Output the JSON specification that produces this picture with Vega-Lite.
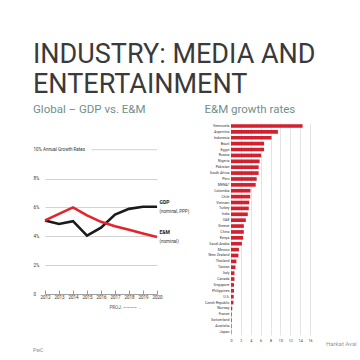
{
  "$schema": "https://vega.github.io/schema/vega-lite/v6.json",
  "background": "white",
  "padding": {"left": 33, "top": 40, "right": 0, "bottom": 0},
  "title": {
    "text": ["INDUSTRY: MEDIA AND", "ENTERTAINMENT"],
    "font": "Roboto",
    "fontSize": 27,
    "fontWeight": "normal",
    "lineHeight": 30,
    "color": "#3a3a3a",
    "anchor": "start",
    "frame": "bounds",
    "offset": 5
  },
  "datasets": {
    "lines": [
      {"year": 2012, "series": "GDP", "value": 5.1},
      {"year": 2013, "series": "GDP", "value": 4.85},
      {"year": 2014, "series": "GDP", "value": 5.05},
      {"year": 2015, "series": "GDP", "value": 4.05},
      {"year": 2016, "series": "GDP", "value": 4.6},
      {"year": 2017, "series": "GDP", "value": 5.5},
      {"year": 2018, "series": "GDP", "value": 5.9},
      {"year": 2019, "series": "GDP", "value": 6.05},
      {"year": 2020, "series": "GDP", "value": 6.05},
      {"year": 2012, "series": "E&M", "value": 5.1},
      {"year": 2013, "series": "E&M", "value": 5.55},
      {"year": 2014, "series": "E&M", "value": 6.0},
      {"year": 2015, "series": "E&M", "value": 5.45},
      {"year": 2016, "series": "E&M", "value": 5.0},
      {"year": 2017, "series": "E&M", "value": 4.7},
      {"year": 2018, "series": "E&M", "value": 4.45},
      {"year": 2019, "series": "E&M", "value": 4.2},
      {"year": 2020, "series": "E&M", "value": 3.95}
    ],
    "labels": [
      {"year": 2020, "value": 6.05, "name": "GDP", "sub": "(nominal, PPP)"},
      {"year": 2020, "value": 3.95, "name": "E&M", "sub": "(nominal)"}
    ],
    "bars": [
      {"country": "Venezuela", "rate": 14.5},
      {"country": "Argentina", "rate": 9.5},
      {"country": "Indonesia", "rate": 8.2},
      {"country": "Brazil", "rate": 6.7},
      {"country": "Egypt", "rate": 6.7},
      {"country": "Russia", "rate": 6.1},
      {"country": "Nigeria", "rate": 5.8},
      {"country": "Pakistan", "rate": 5.6},
      {"country": "South Africa", "rate": 5.6},
      {"country": "Peru", "rate": 5.2},
      {"country": "MENA*", "rate": 5.0},
      {"country": "Colombia", "rate": 3.95},
      {"country": "Chile", "rate": 3.9},
      {"country": "Vietnam", "rate": 3.7},
      {"country": "Turkey", "rate": 3.6},
      {"country": "India", "rate": 3.4},
      {"country": "UAE", "rate": 3.0},
      {"country": "Greece", "rate": 2.6},
      {"country": "China", "rate": 2.6},
      {"country": "Kenya", "rate": 2.45},
      {"country": "Saudi Arabia", "rate": 2.2},
      {"country": "Mexico", "rate": 1.6},
      {"country": "New Zealand", "rate": 1.5},
      {"country": "Thailand", "rate": 1.1},
      {"country": "Taiwan", "rate": 0.9},
      {"country": "Italy", "rate": 0.7},
      {"country": "Canada", "rate": 0.7},
      {"country": "Singapore", "rate": 0.6},
      {"country": "Philippines", "rate": 0.6},
      {"country": "U.S.", "rate": 0.55},
      {"country": "Czech Republic", "rate": 0.5},
      {"country": "Norway", "rate": 0.25},
      {"country": "France", "rate": 0.15},
      {"country": "Switzerland", "rate": 0.15},
      {"country": "Australia", "rate": 0.12},
      {"country": "Japan", "rate": 0.1}
    ]
  },
  "config": {
    "view": {"stroke": null},
    "font": "Roboto",
    "concat": {"spacing": 14}
  },
  "hconcat": [
    {
      "width": 112,
      "height": 171,
      "title": {
        "text": "Global – GDP vs. E&M",
        "fontSize": 11.5,
        "fontWeight": "normal",
        "color": "#6f8f8c",
        "anchor": "start",
        "frame": "bounds",
        "offset": 8
      },
      "layer": [
        {
          "data": {"name": "lines"},
          "mark": {"type": "line", "strokeWidth": 2.6, "clip": false},
          "encoding": {
            "x": {
              "field": "year", "type": "quantitative",
              "scale": {"domain": [2012, 2020], "nice": false, "zero": false},
              "axis": {
                "values": [2012, 2013, 2014, 2015, 2016, 2017, 2018, 2019, 2020],
                "tickCount": 20,
                "format": "d",
                "labelOverlap": false,
                "labelFlush": false,
                "title": "PROJ. ————→",
                "titleFontSize": 4.5,
                "titleFontWeight": "normal",
                "titleColor": "#555",
                "titleX": 80,
                "titlePadding": 6,
                "labelFontSize": 4.5,
                "labelColor": "#333",
                "labelPadding": 4,
                "tickSize": -4,
                "tickColor": "#999",
                "domainColor": "#888",
                "domainWidth": 0.8,
                "grid": false
              }
            },
            "y": {
              "field": "value", "type": "quantitative",
              "scale": {"domain": [0, 11.85], "nice": false},
              "axis": {
                "values": [0, 2, 4, 6, 8, 10],
                "tickCount": 20,
                "labelOverlap": false,
                "labelFlush": false,
                "labelExpr": "datum.value == 0 ? '0' : datum.value == 10 ? '10%   Annual Growth Rates' : datum.value + '%'",
                "labelAlign": "left",
                "labelPadding": 12,
                "labelFontSize": 4.5,
                "labelColor": "#333",
                "domain": false,
                "ticks": false,
                "title": null,
                "grid": true,
                "gridColor": "#b5b5b5",
                "gridWidth": 0.6,
                "gridOpacity": {"condition": {"test": "datum.value == 10 || datum.value == 0", "value": 0}, "value": 1}
              }
            },
            "color": {
              "field": "series", "type": "nominal",
              "scale": {"domain": ["GDP", "E&M"], "range": ["#1a1a1a", "#e0262c"]},
              "legend": null
            }
          }
        },
        {
          "data": {"values": [{}]},
          "mark": {"type": "rule", "color": "#b5b5b5", "strokeWidth": 0.6},
          "encoding": {
            "x": {"datum": 2015.3},
            "x2": {"datum": 2020},
            "y": {"datum": 10}
          }
        },
        {
          "data": {"name": "labels"},
          "mark": {"type": "text", "align": "left", "dx": 2.5, "dy": -5, "fontSize": 5, "fontWeight": "bold", "color": "#222", "clip": false},
          "encoding": {
            "x": {"field": "year", "type": "quantitative"},
            "y": {"field": "value", "type": "quantitative"},
            "text": {"field": "name"}
          }
        },
        {
          "data": {"name": "labels"},
          "mark": {"type": "text", "align": "left", "dx": 2.5, "dy": 5, "fontSize": 4.5, "color": "#333", "clip": false},
          "encoding": {
            "x": {"field": "year", "type": "quantitative"},
            "y": {"field": "value", "type": "quantitative"},
            "text": {"field": "sub"}
          }
        },
        {
          "data": {"values": [{}]},
          "mark": {"type": "text", "align": "left", "fontSize": 5, "color": "#888", "dx": -12, "dy": 56},
          "encoding": {
            "x": {"datum": 2012},
            "y": {"datum": 0},
            "text": {"value": "PwC"}
          }
        }
      ]
    },
    {
      "width": 79,
      "height": 212,
      "title": {
        "text": "E&M growth rates",
        "fontSize": 11.5,
        "fontWeight": "normal",
        "color": "#6f8f8c",
        "anchor": "start",
        "frame": "bounds",
        "offset": 8
      },
      "layer": [
        {
          "data": {"name": "bars"},
          "mark": {"type": "bar", "color": "#d41f2e"},
          "encoding": {
            "y": {
              "field": "country", "type": "nominal", "sort": null,
              "scale": {"paddingInner": 0.38, "paddingOuter": 0.2},
              "axis": {
                "title": null,
                "labelFontSize": 3.6,
                "labelColor": "#333",
                "labelOverlap": false,
                "ticks": false,
                "domain": false,
                "labelPadding": 2
              }
            },
            "x": {
              "field": "rate", "type": "quantitative",
              "scale": {"domain": [0, 16], "nice": false},
              "axis": {
                "values": [0, 2, 4, 6, 8, 10, 12, 14, 16],
                "tickCount": 20,
                "labelOverlap": false,
                "labelFlush": false,
                "title": null,
                "labelFontSize": 3.6,
                "labelColor": "#333",
                "ticks": false,
                "domain": false,
                "grid": true,
                "gridColor": "#d0d0d0",
                "gridWidth": 0.6,
                "labelPadding": 3
              }
            }
          }
        },
        {
          "data": {"values": [{}]},
          "mark": {"type": "text", "align": "left", "fontSize": 6, "color": "#999", "dx": 95, "dy": 12},
          "encoding": {
            "x": {"datum": 0},
            "y": {"datum": "Japan"},
            "text": {"value": "Harkat Aval"}
          }
        }
      ]
    }
  ]
}
